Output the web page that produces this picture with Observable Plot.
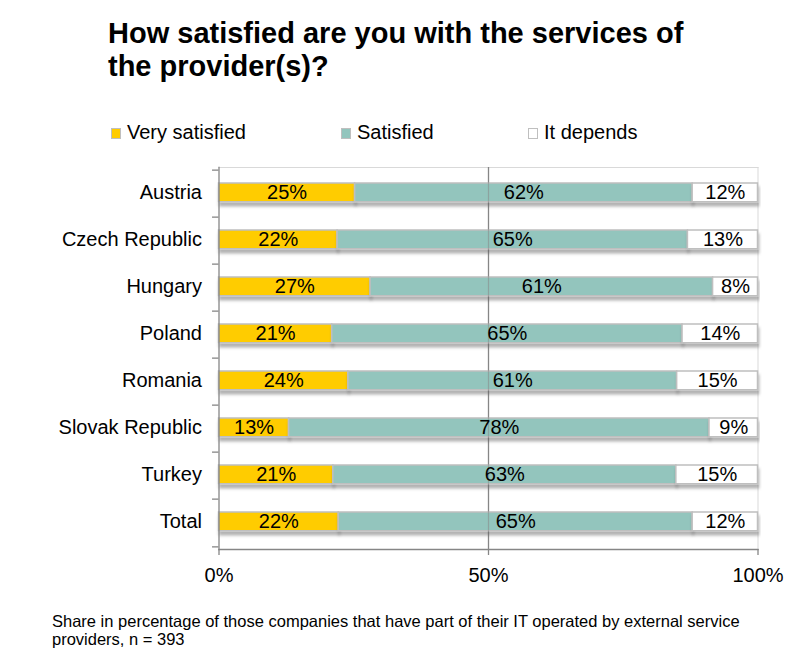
<!DOCTYPE html>
<html>
<head>
<meta charset="utf-8">
<script src="https://cdn.jsdelivr.net/npm/d3@7"></script>
<script src="https://cdn.jsdelivr.net/npm/@observablehq/plot@0.6"></script>
<style>
  html, body { margin: 0; padding: 0; background: #fff; }
  #wrap { position: relative; width: 797px; height: 661px; font-family: "Liberation Sans", Arial, sans-serif; color: #000; overflow: hidden; }
  #title { position: absolute; left: 108px; top: 17px; font-size: 29px; font-weight: bold; line-height: 33px; white-space: nowrap; }
  .leg { position: absolute; top: 120px; font-size: 20px; line-height: 24px; white-space: nowrap; }
  .sw { position: absolute; top: 8px; width: 8px; height: 9px; border: 1px solid #bfbfbf; }
  #caption { position: absolute; left: 52px; top: 612px; font-size: 16.5px; line-height: 18px; width: 720px; }
  #chart { position: absolute; left: 0; top: 0; }
</style>
</head>
<body>
<div id="wrap">
  <div id="chart"></div>
  <div id="title">How satisfied are you with the services of<br>the provider(s)?</div>
  <div id="legend"></div>
  <div id="caption">Share in percentage of those companies that have part of their IT operated by external service providers, n = 393</div>
</div>
<script>
const countries = ["Austria", "Czech Republic", "Hungary", "Poland", "Romania", "Slovak Republic", "Turkey", "Total"];
const categories = ["Very satisfied", "Satisfied", "It depends"];
const verySatisfied = [25, 22, 27, 21, 24, 13, 21, 22];
const satisfied = [62, 65, 61, 65, 61, 78, 63, 65];
const itDepends = [12, 13, 8, 14, 15, 9, 15, 12];
const xTickValues = [0, 50, 100];
const xTickLabels = ["0%", "50%", "100%"];
const colors = ["#ffcc00", "#93c5bd", "#ffffff"];

const series = [verySatisfied, satisfied, itDepends];
const data = [];
countries.forEach((c, i) => {
  categories.forEach((cat, j) => {
    data.push({country: c, category: cat, value: series[j][i]});
  });
});

// legend
const legendX = [111, 341, 528];
const legend = document.getElementById("legend");
categories.forEach((cat, j) => {
  const d = document.createElement("div");
  d.className = "leg";
  d.style.left = legendX[j] + "px";
  d.innerHTML = `<span class="sw" style="left:0;background:${colors[j]}"></span><span style="position:absolute;left:16px;top:0">${cat}</span>`;
  legend.appendChild(d);
});

const W = 797, H = 600;
const mTop = 167, mBottom = 51, mLeft = 218.5, mRight = 39.5;
const step = (H - mTop - mBottom) / countries.length;
const barH = 19.5;
const insetTop = 13;
const insetBottom = step - barH - insetTop;
const stackOpts = {x: "value", y: "country", z: "category", order: null, offset: "normalize"};

const plot = Plot.plot({
  width: W,
  height: H,
  marginTop: mTop,
  marginBottom: mBottom,
  marginLeft: mLeft,
  marginRight: mRight,
  style: {fontFamily: "'Liberation Sans', Arial, sans-serif", fontSize: "20px", background: "transparent", color: "#000"},
  x: {domain: [0, 1], axis: null},
  y: {domain: countries, padding: 0, axis: null},
  color: {domain: categories, range: colors},
  marks: [
    Plot.frame({anchor: "top", stroke: "#d9d9d9"}),
    Plot.frame({anchor: "right", stroke: "#d9d9d9"}),
    Plot.ruleX([0.5], {stroke: "#868686", strokeWidth: 1.2}),
    Plot.barX(data, Plot.stackX({
      ...stackOpts,
      fill: "category",
      stroke: "#bfbfbf",
      strokeWidth: 1.5,
      insetTop,
      insetBottom
    })),
    Plot.ruleX([0.5], {stroke: "#868686", strokeOpacity: 0.55, strokeWidth: 1.2}),
    Plot.text(data, Plot.stackX({
      ...stackOpts,
      text: d => d.value + "%",
      fill: "#000",
      fontSize: 20,
      dy: -1
    })),
    Plot.frame({anchor: "left", stroke: "#868686", strokeWidth: 1.3}),
    Plot.frame({anchor: "bottom", stroke: "#868686", strokeWidth: 1.3}),
    Plot.ruleY(countries, {y: d => d, x1: -0.012, x2: 0, dy: -step / 2, stroke: "#868686", strokeWidth: 1.3}),
    Plot.ruleY(countries.slice(-1), {y: d => d, x1: -0.012, x2: 0, dy: step / 2, stroke: "#868686", strokeWidth: 1.3}),
    Plot.axisY({tickSize: 0, tickPadding: 17, fontSize: 20, label: null, dy: -1}),
    Plot.axisX({
      ticks: xTickValues.map(v => v / 100),
      tickFormat: (v, i) => xTickLabels[i],
      tickSize: 6,
      tickPadding: 12,
      stroke: "#868686",
      strokeWidth: 1.3,
      fontSize: 20,
      label: null
    })
  ]
});

// soft drop shadow under bars
const svg = d3.select(plot);
const defs = svg.insert("defs", ":first-child");
const f = defs.append("filter").attr("id", "barShadow").attr("x", "-5%").attr("y", "-30%").attr("width", "110%").attr("height", "190%");
f.append("feDropShadow").attr("dx", 1).attr("dy", 4).attr("stdDeviation", 1.6).attr("flood-color", "#000").attr("flood-opacity", 0.3);
svg.selectAll("g[aria-label='bar'] rect").attr("filter", "url(#barShadow)");
svg.selectAll("g[aria-label='y-axis tick label'] text, g[aria-label='x-axis tick label'] text").attr("fill", "#000");

document.getElementById("chart").appendChild(plot);
</script>
</body>
</html>
